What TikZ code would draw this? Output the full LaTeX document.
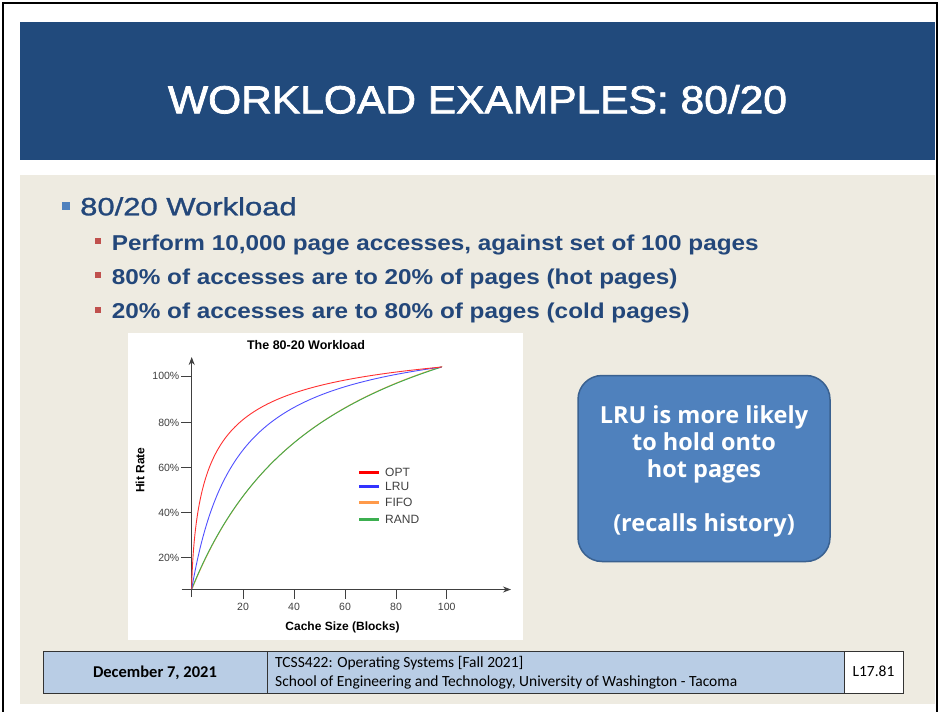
\documentclass[tikz,border=0pt]{standalone}
\usepackage{fontspec}
\setmainfont{Liberation Sans}
\newfontfamily\ttlfont[FakeStretch=1.09,FakeBold=2]{Liberation Sans}
\newfontfamily\hfont[FakeStretch=1.24,FakeBold=1.2]{Liberation Sans}
\newfontfamily\sbfont[FakeStretch=1.13]{Liberation Sans}
\newfontfamily\chfont{Liberation Sans}
\newfontfamily\cofont{Open Sans}
\newfontfamily\ftfont{Carlito}
\usetikzlibrary{arrows.meta}
\definecolor{band}{HTML}{214A7C}
\definecolor{beige}{HTML}{EEEBE1}
\definecolor{btext}{HTML}{23477A}
\definecolor{bblue}{HTML}{4F81BD}
\definecolor{bred}{HTML}{C0504D}
\definecolor{cofill}{HTML}{4F81BD}
\definecolor{codraw}{HTML}{3A6190}
\definecolor{footblue}{HTML}{B9CDE5}
\definecolor{axgray}{HTML}{404040}
\definecolor{cred}{HTML}{FF3030}
\definecolor{cblue}{HTML}{5050FF}
\definecolor{cgreen}{HTML}{3CAF50}
\definecolor{corange}{HTML}{FF9A4A}
\tikzset{
  bodytxt/.style={anchor=base west, inner sep=0pt, text=btext},
  sqbullet/.style={inner sep=0pt, minimum size=#1, draw=none},
  ticklab/.style={inner sep=0pt, text=axgray, font=\chfont\fontsize{10.5}{12}\selectfont},
  legline/.style={line width=3pt},
  leglab/.style={anchor=west, inner sep=0pt, text=axgray, font=\chfont\fontsize{12}{14}\selectfont},
  curve/.style={line width=0.9pt},
  coline/.style={anchor=base, inner sep=0pt, text=white, font=\cofont\bfseries\fontsize{23.5}{27}\selectfont},
  fcell/.style={draw=black!80, line width=0.8pt, inner sep=0pt},
  foottxt/.style={inner sep=0pt, text=black, font=\ftfont\fontsize{15.5}{18}\selectfont}
}
\begin{document}
\begin{tikzpicture}[x=1pt,y=-1pt]
\useasboundingbox (0,0) rectangle (940,712);
\fill[white] (0,0) rectangle (940,712);
% outer frame
\draw[line width=2pt] (3,712) -- (3,3) -- (937,3) -- (937,712);
% title band
\node[fill=band, minimum width=915pt, minimum height=138pt, inner sep=0pt, anchor=north west] (band) at (20,22) {};
\node[anchor=base, inner sep=0pt, text=white, font=\ttlfont\fontsize{39}{44}\selectfont] (title) at (477.5,113.3) {WORKLOAD EXAMPLES: 80/20};
% content
\node[fill=beige, minimum width=915pt, minimum height=529pt, inner sep=0pt, anchor=north west] (content) at (20,175) {};
% bullets
\node[sqbullet=8pt, fill=bblue] (b0) at (66,206) {};
\node[bodytxt, font=\hfont\fontsize{25}{30}\selectfont] (t0) at (80,215.3) {80/20 Workload};
\node[sqbullet=6pt, fill=bred] (b1) at (97.5,241.3) {};
\node[bodytxt, font=\sbfont\bfseries\fontsize{21.5}{26}\selectfont] (t1) at (111.7,250) {Perform 10,000 page accesses, against set of 100 pages};
\node[sqbullet=6pt, fill=bred] (b2) at (97.5,275.3) {};
\node[bodytxt, font=\sbfont\bfseries\fontsize{21.5}{26}\selectfont] (t2) at (111.7,284) {80\% of accesses are to 20\% of pages (hot pages)};
\node[sqbullet=6pt, fill=bred] (b3) at (97.5,309.6) {};
\node[bodytxt, font=\sbfont\bfseries\fontsize{21.5}{26}\selectfont] (t3) at (111.7,318.3) {20\% of accesses are to 80\% of pages (cold pages)};
% chart
\node[fill=white, minimum width=395pt, minimum height=307pt, inner sep=0pt, anchor=north west] (chart) at (128,333) {};
\node[inner sep=0pt, font=\chfont\bfseries\fontsize{12.5}{14}\selectfont] (ctitle) at (306,345) {The 80-20 Workload};
\coordinate (o) at (191.7,589.5);
\coordinate (ybot) at (191.7,597);
\coordinate (ytop) at (191.7,357);
\coordinate (xleft) at (181.7,589.5);
\coordinate (xright) at (511,589.5);
\draw[axgray, line width=1pt, -{Stealth[length=8pt,width=6pt]}] (ybot) -- (ytop);
\draw[axgray, line width=1pt, -{Stealth[length=8pt,width=6pt]}] (xleft) -- (xright);
\foreach \yy/\lab in {376/100, 422.7/80, 467.7/60, 512.7/40, 557.7/20}{
  \draw[axgray, line width=0.8pt] (181,\yy) -- (191.7,\yy);
  \node[ticklab, anchor=east] (yl\lab) at (179.5,\yy) {\lab\%};
}
\foreach \xx/\lab in {243/20, 294/40, 345/60, 396/80, 446.7/100}{
  \draw[axgray, line width=0.8pt] (\xx,589.5) -- (\xx,599);
  \node[ticklab] (xl\lab) at (\xx,606.7) {\lab};
}
\node[inner sep=0pt, rotate=90, font=\chfont\bfseries\fontsize{12}{14}\selectfont] (ylabel) at (140,470) {Hit Rate};
\node[inner sep=0pt, font=\chfont\bfseries\fontsize{12}{14}\selectfont] (xlabel) at (342.5,627) {Cache Size (Blocks)};
% curves (d = t^2 pixels from the y axis)
\draw[curve, corange, xshift=0.6pt, yshift=0.6pt] plot[domain=0:15.811, samples=120, variable=\t] ({191.7+\t*\t}, {589 - 346.5/(\t*\t+140.2)*\t*\t});
\draw[curve, cgreen] plot[domain=0:15.811, samples=120, variable=\t] ({191.7+\t*\t}, {589 - 346.5/(\t*\t+140.2)*\t*\t});
\draw[curve, cblue] plot[domain=0:15.811, samples=120, variable=\t] ({191.7+\t*\t}, {589 - 262.4/(\t*\t+45.55)*\t*\t});
\draw[curve, cred] (191.7,589) -- plot[domain=0.05:15.811, samples=160, variable=\t] ({191.7+\t*\t}, {589 - 262.1/(\t^1.4+8.62)*(\t^1.4)});
% legend
\foreach \yy/\col/\lab/\nm in {472.7/red/OPT/opt, 486.7/blue!80!white/LRU/lru, 502.7/corange/FIFO/fifo, 519/cgreen/RAND/rand}{
  \coordinate (la\nm) at (359.3,\yy);
  \coordinate (lb\nm) at (379.3,\yy);
  \draw[legline, \col] (la\nm) -- (lb\nm);
  \node[leglab] (ll\nm) at (385,\yy) {\lab};
}
% callout
\node[fill=cofill, draw=codraw, line width=1.5pt, rounded corners=24pt, minimum width=252pt, minimum height=186pt, inner sep=0pt] (callout) at (704,468.5) {};
\node[coline] (cl1) at (704,423) {LRU is more likely};
\node[coline] (cl2) at (704,450) {to hold onto};
\node[coline] (cl3) at (704,477) {hot pages};
\node[coline] (cl4) at (704,531) {(recalls history)};
% footer
\node[fcell, fill=footblue, minimum width=224pt, minimum height=42pt, anchor=north west] (fdate) at (43,651) {};
\node[fcell, fill=footblue, minimum width=577pt, minimum height=42pt, anchor=north west] (fmid) at (267,651) {};
\node[fcell, fill=white, minimum width=59pt, minimum height=42pt, anchor=north west] (fnum) at (844,651) {};
\node[foottxt, anchor=base, font=\ftfont\bfseries\fontsize{16.5}{18}\selectfont] (dtxt) at (155,677.5) {December 7, 2021};
\node[foottxt, anchor=base west] (m1) at (275,667) {TCSS422: Operating Systems [Fall 2021]};
\node[foottxt, anchor=base west] (m2) at (275,686) {School of Engineering and Technology, University of Washington - Tacoma};
\node[foottxt, anchor=base] (ntxt) at (873.5,676.5) {L17.81};
\end{tikzpicture}
\end{document}
